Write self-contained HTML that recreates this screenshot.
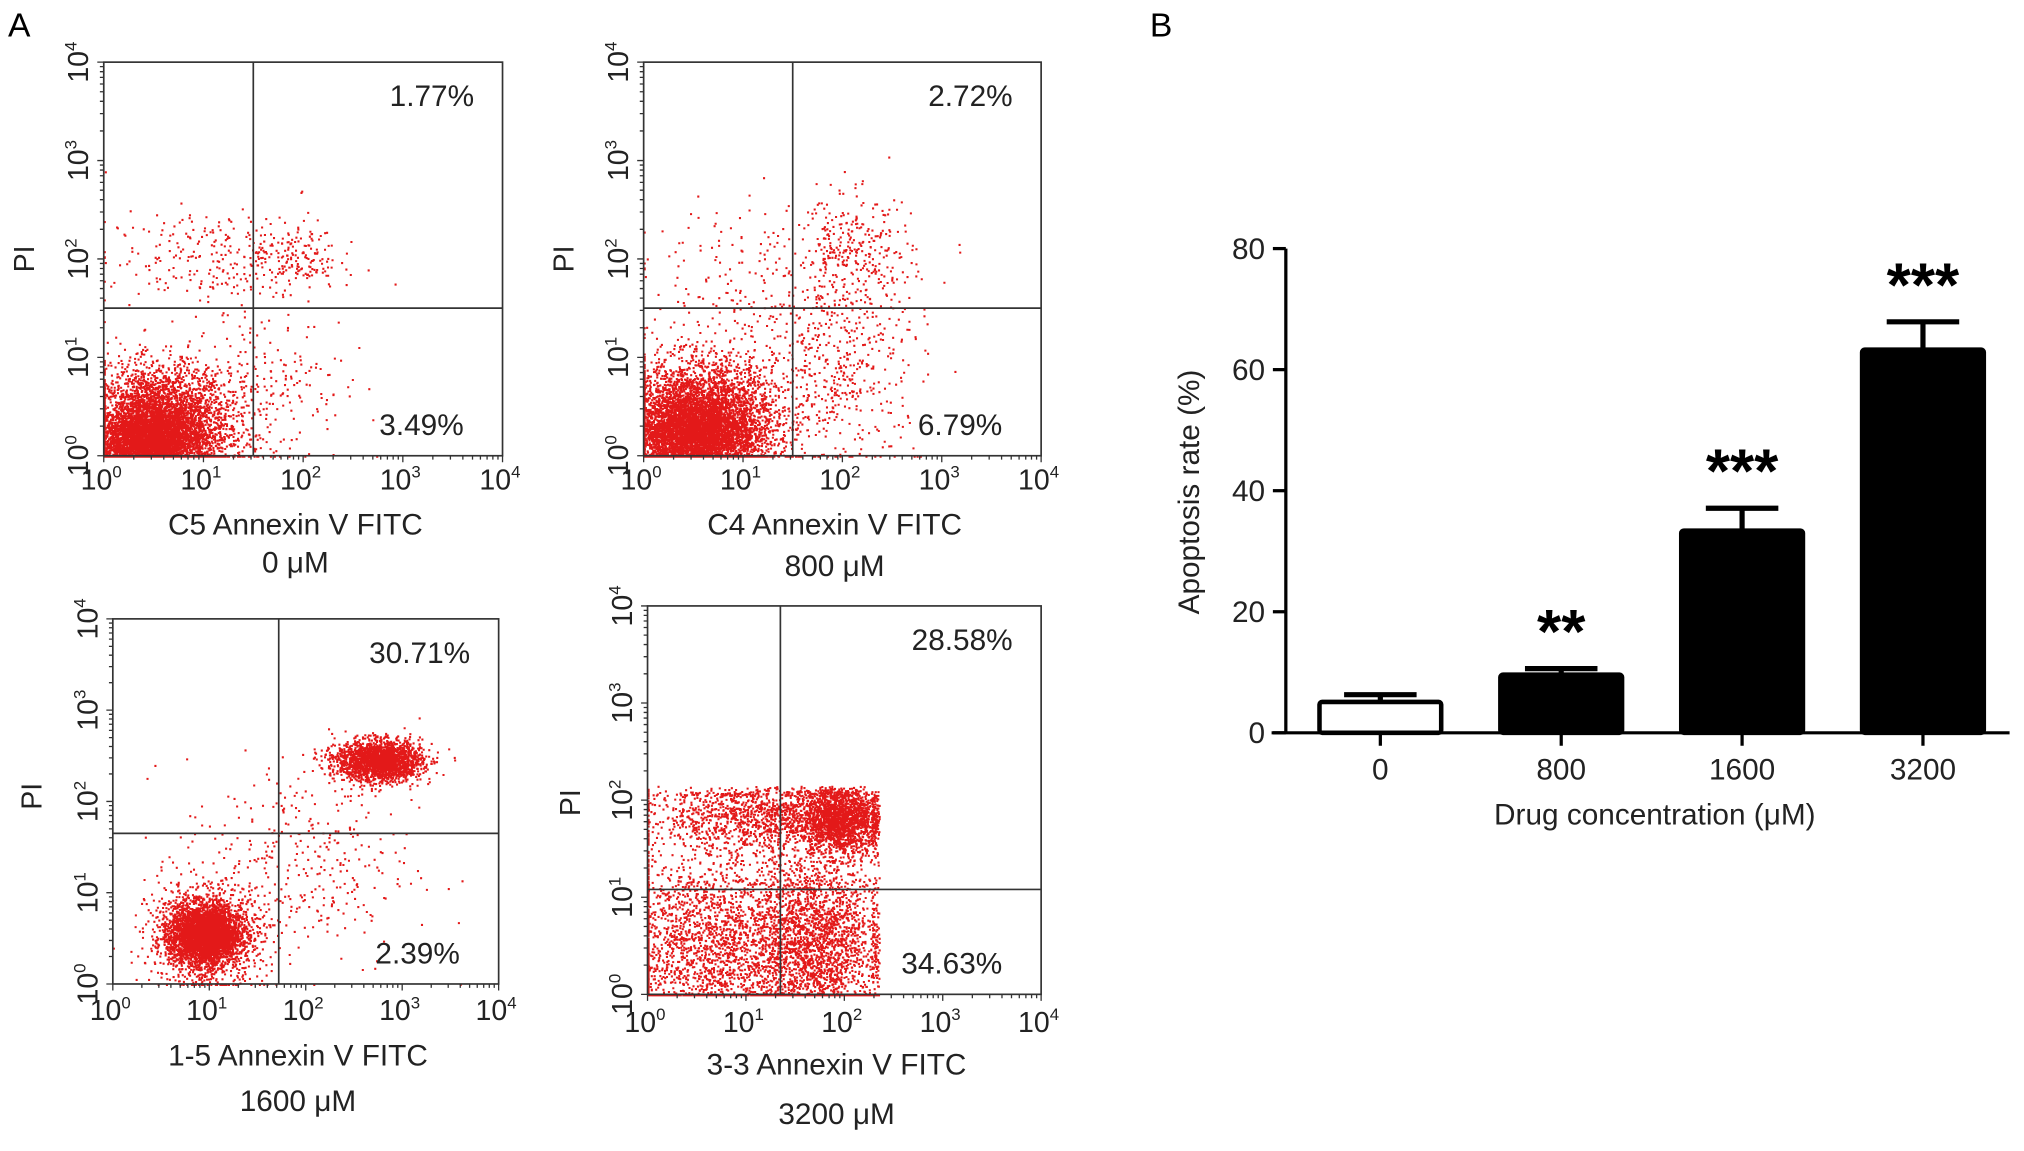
<!DOCTYPE html>
<html><head><meta charset="utf-8">
<style>
html,body{margin:0;padding:0;background:#fff;}
svg{display:block;font-family:"Liberation Sans",Arial,sans-serif;}
</style></head>
<body>
<svg id="fig" width="2024" height="1151" viewBox="0 0 1563 889" xmlns="http://www.w3.org/2000/svg">
<rect width="1563" height="889" fill="#fff"/>
<text x="6" y="28" font-size="26">A</text>
<text x="888" y="28" font-size="26">B</text>
<g id="flow"></g>
<g id="bars"></g>
</svg>
<script>
// ---- Bar chart data ----
const categories = ["0", "800", "1600", "3200"];
const rates = [5.1, 9.6, 33.4, 63.3];
const errors = [1.2, 1.0, 3.7, 4.6];
const stars = ["", "**", "***", "***"];
const yTicks = [0, 20, 40, 60, 80];

// ---- Flow plot data ----
const flowTitles = ["C5 Annexin V FITC", "C4 Annexin V FITC", "1-5 Annexin V FITC", "3-3 Annexin V FITC"];
const flowDoses = ["0 μM", "800 μM", "1600 μM", "3200 μM"];
const flowUR = ["1.77%", "2.72%", "30.71%", "28.58%"];
const flowLR = ["3.49%", "6.79%", "2.39%", "34.63%"];
const gateX = [1.5, 1.5, 1.72, 1.35];
const gateY = [1.5, 1.5, 1.65, 1.08];
// clusters: [cx, cy, sdx, sdy, n] in log decades
const clusters0 = [[0.55,0.3,0.35,0.3,4500],[0.4,0.15,0.25,0.15,2500],[1.6,0.7,0.4,0.4,220],[1.1,2.0,0.55,0.25,260],[1.9,2.05,0.22,0.18,140]];
const clusters1 = [[0.55,0.35,0.38,0.3,4500],[0.5,0.2,0.3,0.2,2500],[1.9,0.9,0.45,0.5,550],[2.1,2.05,0.3,0.3,320],[1.0,1.8,0.5,0.4,160]];
const clusters2 = [[0.95,0.55,0.18,0.16,3500],[0.95,0.55,0.3,0.28,1000],[2.75,2.45,0.22,0.11,2200],[1.9,1.3,0.6,0.6,380]];
const clusters3 = [[1.15,1.85,0.6,0.17,1300],[1.95,1.8,0.2,0.18,1800],[0.6,0.5,0.5,0.5,2200],[1.7,0.5,0.35,0.5,2600]];
const allClusters = [clusters0, clusters1, clusters2, clusters3];

const NS = "http://www.w3.org/2000/svg";
function mk(tag, attrs, parent, text) {
  const e = document.createElementNS(NS, tag);
  for (const k in attrs) e.setAttribute(k, attrs[k]);
  if (text !== undefined) e.textContent = text;
  parent.appendChild(e);
  return e;
}
let seed = 12345;
function rnd() { seed = (seed * 1103515245 + 12345) % 2147483648; return seed / 2147483648; }
function gauss() { let u = rnd() || 1e-6, v = rnd(); return Math.sqrt(-2 * Math.log(u)) * Math.cos(2 * Math.PI * v); }

const boxes = [
  {x0:80, x1:388, y0:48, y1:352, tickY:378, t1:413, t2:442, pi:[18,200]},
  {x0:497, x1:804, y0:48, y1:352, tickY:378, t1:413, t2:445, pi:[435,200]},
  {x0:87, x1:385, y0:478, y1:760, tickY:788, t1:823, t2:858, pi:[24,615]},
  {x0:500, x1:804, y0:468, y1:768, tickY:797, t1:830, t2:868, pi:[440,620]}
];
const flow = document.getElementById("flow");
boxes.forEach((b, i) => {
  const g = mk("g", {}, flow);
  
  
  const sx = v => b.x0 + (b.x1 - b.x0) * v / 4;
  const sy = v => b.y1 - (b.y1 - b.y0) * v / 4;
  const xMax = i === 3 ? 2.35 : 4;
  let pts = "";
  allClusters[i].forEach(c => {
    for (let k = 0; k < c[4]; k++) {
      let x = c[0] + c[2] * gauss(), y = c[1] + c[3] * gauss();
      if (i === 3) { x = Math.min(x, xMax - rnd() * 0.08); y = Math.min(y, 2.15 - rnd() * 0.1); }
      x = Math.max(0, Math.min(3.98, x)); y = Math.max(0, Math.min(3.98, y));
      pts += "M" + sx(x).toFixed(1) + " " + sy(y).toFixed(1) + "h1.6v1.6h-1.6z";
    }
  });
  const dots = mk("path", {d: pts, fill: "#e00000", "fill-opacity": "0.9"}, g);
  
  
  const box = mk("rect", {x: b.x0, y: b.y0, width: b.x1 - b.x0, height: b.y1 - b.y0, fill: "none", stroke: "#333", "stroke-width": 1.3}, g);
  
  
  const gv = mk("line", {x1: sx(gateX[i]), x2: sx(gateX[i]), y1: b.y0, y2: b.y1, stroke: "#333", "stroke-width": 1.3}, g);
  
  
  const gh = mk("line", {x1: b.x0, x2: b.x1, y1: sy(gateY[i]), y2: sy(gateY[i]), stroke: "#333", "stroke-width": 1.3}, g);
  
  
  let tk = "";
  for (let d = 0; d < 4; d++) for (let m = 1; m <= 10; m++) {
    const v = d + Math.log10(m);
    const L = m === 1 || m === 10 ? 5 : 3;
    tk += "M" + sx(v) + " " + b.y1 + "v" + L + "M" + b.x0 + " " + sy(v) + "h-" + L;
  }
  mk("path", {d: tk, stroke: "#333", "stroke-width": 1, fill: "none"}, g);
  for (let d = 0; d <= 4; d++) {
    const t = mk("text", {x: sx(d) - 2, y: b.tickY, "font-size": 22, "text-anchor": "middle", fill: "#222"}, g, "10");
    mk("tspan", {dy: -9, "font-size": 13}, t, String(d));
    
    
    const ty = mk("text", {transform: "translate(" + (b.x0 - 12) + "," + sy(d) + ") rotate(-90)", "font-size": 22, "text-anchor": "middle", fill: "#222"}, g, "10");
    mk("tspan", {dy: -9, "font-size": 13}, ty, String(d));
    
    
  }
  const pi = mk("text", {transform: "translate(" + (b.pi[0] + 8) + "," + b.pi[1] + ") rotate(-90)", "font-size": 22, "text-anchor": "middle", fill: "#222"}, g, "PI");
  
  
  const t1 = mk("text", {x: (b.x0 + b.x1) / 2 - 6, y: b.t1, "font-size": 23, "text-anchor": "middle", fill: "#222"}, g, flowTitles[i]);
  
  
  const t2 = mk("text", {x: (b.x0 + b.x1) / 2 - 6, y: b.t2, "font-size": 23, "text-anchor": "middle", fill: "#222"}, g, flowDoses[i]);
  
  
  const ur = mk("text", {x: b.x1 - 22, y: b.y0 + 34, "font-size": 23, "text-anchor": "end", fill: "#222"}, g, flowUR[i]);
  
  
  const lr = mk("text", {x: b.x1 - 30, y: b.y1 - 16, "font-size": 23, "text-anchor": "end", fill: "#222"}, g, flowLR[i]);
  
  
});

// ---- Bar chart ----
const bars = document.getElementById("bars");
const ax = {x0: 993, y0: 566, yTop: 192, xEnd: 1552};
const yS = v => ax.y0 - (ax.y0 - ax.yTop) * v / 80;
const xS = i => 1066 + i * 139.7;
const bw = 94;
const yAxis = mk("line", {x1: ax.x0, x2: ax.x0, y1: ax.yTop, y2: ax.y0, stroke: "#000", "stroke-width": 2.5}, bars);


const xAxis = mk("line", {x1: 982, x2: ax.xEnd, y1: ax.y0, y2: ax.y0, stroke: "#000", "stroke-width": 2.5}, bars);


yTicks.forEach(v => {
  mk("line", {x1: ax.x0 - 10, x2: ax.x0, y1: yS(v), y2: yS(v), stroke: "#000", "stroke-width": 2.5}, bars);
  const t = mk("text", {x: ax.x0 - 16, y: yS(v) + 8, "font-size": 23, "text-anchor": "end", fill: "#222"}, bars, String(v));
  
  
});
categories.forEach((c, i) => {
  const x = xS(i);
  mk("line", {x1: x, x2: x, y1: ax.y0, y2: ax.y0 + 10, stroke: "#000", "stroke-width": 2.5}, bars);
  const eb = mk("path", {d: "M" + x + " " + yS(rates[i]) + "V" + yS(rates[i] + errors[i]) + "M" + (x - 28) + " " + yS(rates[i] + errors[i]) + "h56", stroke: "#000", "stroke-width": 4, fill: "none"}, bars);
  
  
  const r = mk("rect", {x: x - bw / 2, y: yS(rates[i]), width: bw, height: ax.y0 - yS(rates[i]), fill: i === 0 ? "#fff" : "#000", stroke: "#000", "stroke-width": 3.5, rx: 2}, bars);
  
  
  const t = mk("text", {x: x, y: 602, "font-size": 23, "text-anchor": "middle", fill: "#222"}, bars, c);
  
  
  if (stars[i]) {
    const s = mk("text", {x: x, y: yS(rates[i] + errors[i]) - 12, "font-size": 48, "font-weight": "bold", "text-anchor": "middle", fill: "#000"}, bars, stars[i]);
    
    
  }
});
const yt = mk("text", {transform: "translate(926,380) rotate(-90)", "font-size": 23, "text-anchor": "middle", fill: "#222"}, bars, "Apoptosis rate (%)");


const xt = mk("text", {x: 1278, y: 637, "font-size": 23, "text-anchor": "middle", fill: "#222"}, bars, "Drug concentration (μM)");


</script>
</body></html>
